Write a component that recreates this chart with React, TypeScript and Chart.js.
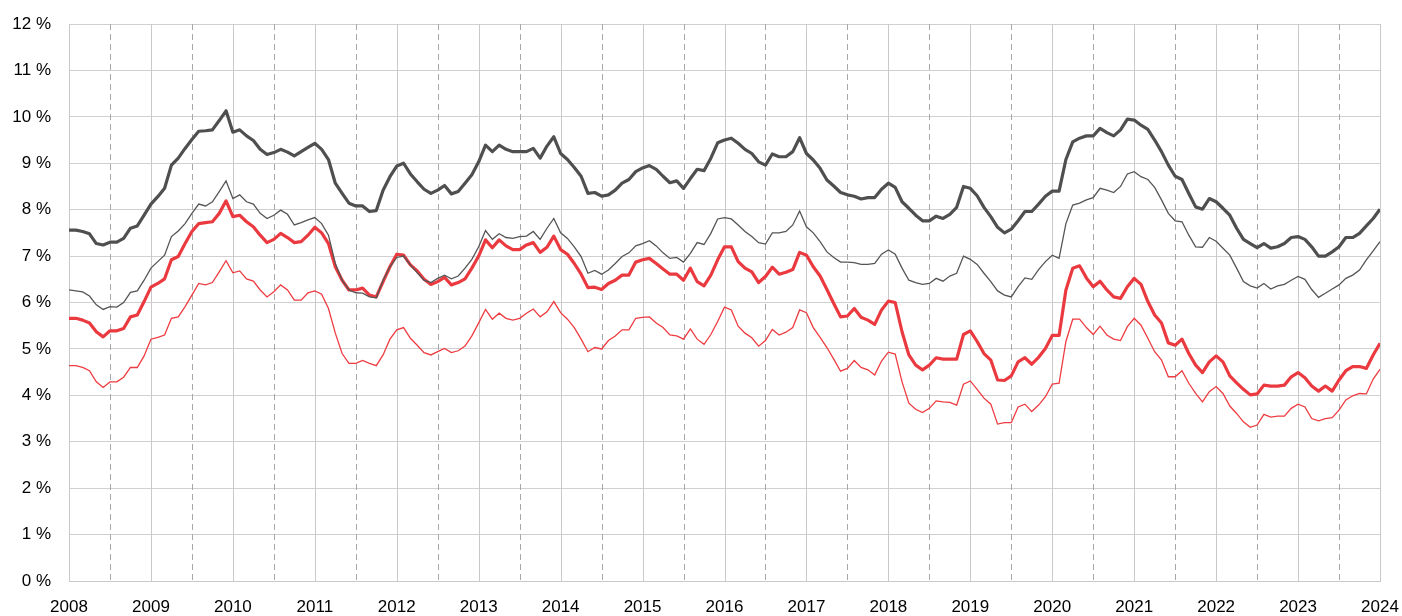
import React, { useEffect, useRef } from "react";
import { Chart, registerables } from "chart.js";

Chart.register(...registerables);

const startYear = 2008;
const yearTicks = [2008, 2009, 2010, 2011, 2012, 2013, 2014, 2015, 2016, 2017, 2018, 2019, 2020, 2021, 2022, 2023, 2024];
const yTicks = [0, 1, 2, 3, 4, 5, 6, 7, 8, 9, 10, 11, 12];

// Monthly values, Jan 2008 ... Jan 2024
const thickDark = [
  7.56, 7.56, 7.53, 7.48, 7.27, 7.24, 7.30, 7.30, 7.38, 7.60, 7.65, 7.88,
  8.12, 8.28, 8.46, 8.96, 9.11, 9.32, 9.51, 9.69, 9.70, 9.72, 9.92, 10.13,
  9.67, 9.72, 9.59, 9.49, 9.30, 9.19, 9.23, 9.30, 9.24, 9.16, 9.25, 9.34,
  9.43, 9.30, 9.08, 8.57, 8.35, 8.14, 8.08, 8.08, 7.96, 7.98, 8.42, 8.71,
  8.94, 9.00, 8.77, 8.60, 8.44, 8.35, 8.42, 8.52, 8.34, 8.39, 8.57, 8.75,
  9.03, 9.39, 9.25, 9.39, 9.30, 9.25, 9.25, 9.25, 9.32, 9.11, 9.37, 9.57,
  9.21, 9.08, 8.91, 8.72, 8.35, 8.37, 8.29, 8.32, 8.42, 8.57, 8.65, 8.82,
  8.90, 8.95, 8.87, 8.72, 8.58, 8.62, 8.46, 8.67, 8.87, 8.84, 9.11, 9.44,
  9.50, 9.54, 9.43, 9.30, 9.21, 9.03, 8.96, 9.20, 9.14, 9.14, 9.25, 9.55,
  9.21, 9.07, 8.89, 8.64, 8.51, 8.37, 8.32, 8.29, 8.23, 8.26, 8.26, 8.44,
  8.57, 8.48, 8.17, 8.03, 7.88, 7.76, 7.76, 7.86, 7.81, 7.90, 8.05, 8.50,
  8.46, 8.30, 8.05, 7.85, 7.62, 7.50, 7.58, 7.76, 7.96, 7.96, 8.12, 8.29,
  8.40, 8.40, 9.08, 9.46, 9.54, 9.59, 9.59, 9.75, 9.66, 9.59, 9.72, 9.95,
  9.93, 9.82, 9.73, 9.50, 9.25, 8.96, 8.72, 8.65, 8.35, 8.06, 8.01, 8.24,
  8.17, 8.03, 7.88, 7.60, 7.36, 7.27, 7.18, 7.27, 7.17, 7.20, 7.27, 7.40,
  7.42, 7.36, 7.20, 7.00, 7.00, 7.09, 7.20, 7.40, 7.40, 7.49, 7.65, 7.81,
  8.01,
];

const thinDark = [
  6.27, 6.25, 6.23, 6.14, 5.95, 5.85, 5.91, 5.90, 6.00, 6.22, 6.25, 6.48,
  6.74, 6.88, 7.02, 7.42, 7.54, 7.70, 7.92, 8.12, 8.08, 8.17, 8.39, 8.62,
  8.24, 8.32, 8.17, 8.12, 7.92, 7.81, 7.88, 7.99, 7.90, 7.67, 7.72, 7.78,
  7.83, 7.70, 7.45, 6.84, 6.48, 6.27, 6.21, 6.20, 6.12, 6.10, 6.48, 6.77,
  6.97, 7.00, 6.81, 6.64, 6.48, 6.43, 6.52, 6.59, 6.51, 6.57, 6.74, 6.93,
  7.20, 7.55, 7.36, 7.48, 7.40, 7.38, 7.42, 7.43, 7.53, 7.36, 7.60, 7.81,
  7.50, 7.38, 7.20, 6.99, 6.63, 6.69, 6.61, 6.70, 6.84, 6.99, 7.07, 7.22,
  7.27, 7.33, 7.22, 7.07, 6.95, 6.97, 6.87, 7.06, 7.29, 7.25, 7.49, 7.80,
  7.83, 7.80, 7.67, 7.53, 7.42, 7.29, 7.26, 7.50, 7.50, 7.53, 7.67, 7.97,
  7.63, 7.50, 7.31, 7.09, 6.97, 6.87, 6.87, 6.86, 6.82, 6.82, 6.84, 7.04,
  7.13, 7.04, 6.74, 6.48, 6.43, 6.39, 6.41, 6.52, 6.46, 6.57, 6.63, 7.00,
  6.93, 6.82, 6.63, 6.45, 6.25, 6.16, 6.12, 6.34, 6.53, 6.50, 6.71, 6.88,
  7.02, 6.95, 7.70, 8.10, 8.14, 8.21, 8.26, 8.46, 8.42, 8.37, 8.50, 8.77,
  8.82, 8.71, 8.65, 8.48, 8.21, 7.92, 7.76, 7.74, 7.45, 7.20, 7.19, 7.40,
  7.32, 7.17, 7.02, 6.74, 6.45, 6.36, 6.31, 6.41, 6.29, 6.36, 6.39, 6.48,
  6.56, 6.50, 6.28, 6.11, 6.20, 6.29, 6.38, 6.52, 6.59, 6.70, 6.92, 7.11,
  7.31,
];

const thickRed = [
  5.66, 5.66, 5.62, 5.56, 5.37, 5.26, 5.39, 5.39, 5.44, 5.69, 5.73, 6.02,
  6.33, 6.41, 6.51, 6.92, 6.99, 7.27, 7.53, 7.70, 7.72, 7.74, 7.92, 8.19,
  7.85, 7.88, 7.74, 7.63, 7.45, 7.29, 7.36, 7.49, 7.40, 7.29, 7.31, 7.45,
  7.62, 7.50, 7.27, 6.77, 6.48, 6.27, 6.27, 6.31, 6.16, 6.12, 6.45, 6.77,
  7.04, 7.02, 6.81, 6.68, 6.50, 6.39, 6.45, 6.54, 6.38, 6.43, 6.51, 6.74,
  7.00, 7.35, 7.18, 7.35, 7.22, 7.14, 7.14, 7.24, 7.29, 7.08, 7.19, 7.43,
  7.14, 7.04, 6.84, 6.61, 6.32, 6.33, 6.28, 6.41, 6.48, 6.59, 6.59, 6.87,
  6.92, 6.95, 6.84, 6.72, 6.61, 6.61, 6.48, 6.74, 6.45, 6.36, 6.59, 6.92,
  7.20, 7.20, 6.88, 6.74, 6.66, 6.43, 6.56, 6.76, 6.61, 6.65, 6.71, 7.08,
  7.02, 6.77, 6.57, 6.28, 5.98, 5.69, 5.71, 5.87, 5.68, 5.62, 5.53, 5.84,
  6.03, 6.00, 5.37, 4.87, 4.65, 4.55, 4.65, 4.81, 4.78, 4.78, 4.78, 5.31,
  5.39, 5.16, 4.90, 4.76, 4.33, 4.32, 4.42, 4.72, 4.81, 4.67, 4.82, 5.01,
  5.29, 5.29, 6.27, 6.74, 6.79, 6.53, 6.34, 6.46, 6.27, 6.12, 6.09, 6.34,
  6.52, 6.39, 6.02, 5.73, 5.56, 5.13, 5.08, 5.21, 4.90, 4.65, 4.49, 4.72,
  4.85, 4.72, 4.42, 4.27, 4.13, 4.01, 4.03, 4.22, 4.20, 4.20, 4.22, 4.40,
  4.49, 4.38, 4.20, 4.09, 4.20, 4.09, 4.33, 4.53, 4.62, 4.62, 4.58, 4.87,
  5.12,
];

const thinRed = [
  4.64, 4.64, 4.60, 4.53, 4.29, 4.17, 4.29, 4.29, 4.39, 4.60, 4.60, 4.85,
  5.21, 5.25, 5.30, 5.66, 5.69, 5.91, 6.16, 6.41, 6.38, 6.43, 6.66, 6.90,
  6.64, 6.68, 6.51, 6.46, 6.27, 6.12, 6.23, 6.38, 6.27, 6.05, 6.05, 6.21,
  6.25, 6.18, 5.87, 5.34, 4.90, 4.69, 4.69, 4.75, 4.69, 4.64, 4.87, 5.21,
  5.41, 5.46, 5.23, 5.08, 4.92, 4.87, 4.94, 5.01, 4.92, 4.96, 5.06, 5.28,
  5.56, 5.85, 5.64, 5.77, 5.66, 5.62, 5.66, 5.77, 5.86, 5.69, 5.80, 6.02,
  5.78, 5.64, 5.46, 5.21, 4.94, 5.03, 5.00, 5.18, 5.28, 5.41, 5.41, 5.66,
  5.68, 5.69, 5.56, 5.46, 5.30, 5.28, 5.21, 5.43, 5.21, 5.10, 5.31, 5.59,
  5.90, 5.84, 5.49, 5.34, 5.24, 5.06, 5.18, 5.42, 5.30, 5.36, 5.46, 5.84,
  5.78, 5.46, 5.25, 5.03, 4.78, 4.52, 4.58, 4.75, 4.60, 4.55, 4.44, 4.74,
  4.93, 4.89, 4.29, 3.83, 3.70, 3.63, 3.72, 3.88, 3.86, 3.85, 3.79, 4.24,
  4.31, 4.13, 3.94, 3.81, 3.38, 3.41, 3.41, 3.75, 3.81, 3.65, 3.79, 3.97,
  4.24, 4.26, 5.16, 5.64, 5.64, 5.46, 5.31, 5.49, 5.30, 5.21, 5.18, 5.48,
  5.66, 5.51, 5.23, 4.94, 4.76, 4.40, 4.40, 4.53, 4.26, 4.04, 3.86, 4.08,
  4.19, 4.04, 3.77, 3.61, 3.43, 3.31, 3.36, 3.59, 3.53, 3.55, 3.55, 3.72,
  3.81, 3.75, 3.50, 3.45, 3.50, 3.52, 3.68, 3.90, 3.99, 4.04, 4.03, 4.35,
  4.56,
];

const toPoints = (vals: number[]) => vals.map((v, i) => ({ x: startYear + i / 12, y: v }));

const yearGridPlugin = {
  id: "yearGrid",
  beforeDatasetsDraw(chart: any) {
    const { ctx, chartArea, scales } = chart;
    const x = scales.x;
    ctx.save();
    ctx.lineWidth = 1;
    for (let i = 0; i < yearTicks.length; i++) {
      const px = Math.round(x.getPixelForValue(yearTicks[i])) + 0.5;
      ctx.strokeStyle = "#c9c9c9";
      ctx.setLineDash([]);
      ctx.beginPath();
      ctx.moveTo(px, chartArea.top);
      ctx.lineTo(px, chartArea.bottom);
      ctx.stroke();
      if (i < yearTicks.length - 1) {
        const ph = Math.round(x.getPixelForValue(yearTicks[i] + 0.5)) + 0.5;
        ctx.strokeStyle = "#a8a8a8";
        ctx.setLineDash([6, 4]);
        ctx.beginPath();
        ctx.moveTo(ph, chartArea.top);
        ctx.lineTo(ph, chartArea.bottom);
        ctx.stroke();
      }
    }
    ctx.restore();
  },
};

export default function App() {
  const canvasRef = useRef<HTMLCanvasElement | null>(null);

  useEffect(() => {
    if (!canvasRef.current) return;
    const font = { family: "'Liberation Sans', Arial, sans-serif", size: 17 };
    const chart = new Chart(canvasRef.current, {
      type: "line",
      data: {
        datasets: [
          {
            label: "thin red",
            data: toPoints(thinRed),
            borderColor: "#ee3b40",
            borderWidth: 1.3,
            pointRadius: 0,
            tension: 0,
          },
          {
            label: "thin dark",
            data: toPoints(thinDark),
            borderColor: "#555555",
            borderWidth: 1.3,
            pointRadius: 0,
            tension: 0,
          },
          {
            label: "thick dark",
            data: toPoints(thickDark),
            borderColor: "#4f4f4f",
            borderWidth: 3.2,
            pointRadius: 0,
            tension: 0,
            borderJoinStyle: "round",
          },
          {
            label: "thick red",
            data: toPoints(thickRed),
            borderColor: "#ea3a3f",
            borderWidth: 3.2,
            pointRadius: 0,
            tension: 0,
            borderJoinStyle: "round",
          },
        ],
      },
      options: {
        animation: false,
        responsive: true,
        maintainAspectRatio: false,
        layout: { padding: { top: 24, right: 22, left: 0, bottom: 0 } },
        plugins: {
          legend: { display: false },
          tooltip: { enabled: false },
        },
        scales: {
          x: {
            type: "linear",
            min: 2008,
            max: 2024,
            afterBuildTicks: (scale: any) => {
              scale.ticks = yearTicks.map((v) => ({ value: v }));
            },
            ticks: {
              autoSkip: false,
              maxRotation: 0,
              padding: 16,
              color: "#000",
              font,
              callback: (v: any) => String(v),
            },
            grid: { display: false, drawTicks: false },
            border: { display: true, color: "#c9c9c9", width: 1 },
            afterFit: (scale: any) => {
              scale.height = 35;
              scale.paddingLeft = 0;
              scale.paddingRight = 0;
              scale.paddingTop = 0;
              scale.paddingBottom = 0;
            },
          },
          y: {
            min: 0,
            max: 12,
            afterBuildTicks: (scale: any) => {
              scale.ticks = yTicks.map((v) => ({ value: v }));
            },
            ticks: {
              padding: 18,
              color: "#000",
              font,
              callback: (v: any) => `${v} %`,
            },
            grid: { color: "#d0d0d0", lineWidth: 1, drawTicks: false },
            border: { display: true, color: "#c9c9c9", width: 1 },
            afterFit: (scale: any) => {
              scale.width = 69;
              scale.paddingLeft = 0;
              scale.paddingRight = 0;
              scale.paddingTop = 0;
              scale.paddingBottom = 0;
            },
          },
        },
      },
      plugins: [yearGridPlugin],
    });
    return () => chart.destroy();
  }, []);

  return (
    <div style={{ position: "absolute", left: 0, top: 0, width: 1402, height: 616, background: "#fff" }}>
      <canvas ref={canvasRef} />
    </div>
  );
}
